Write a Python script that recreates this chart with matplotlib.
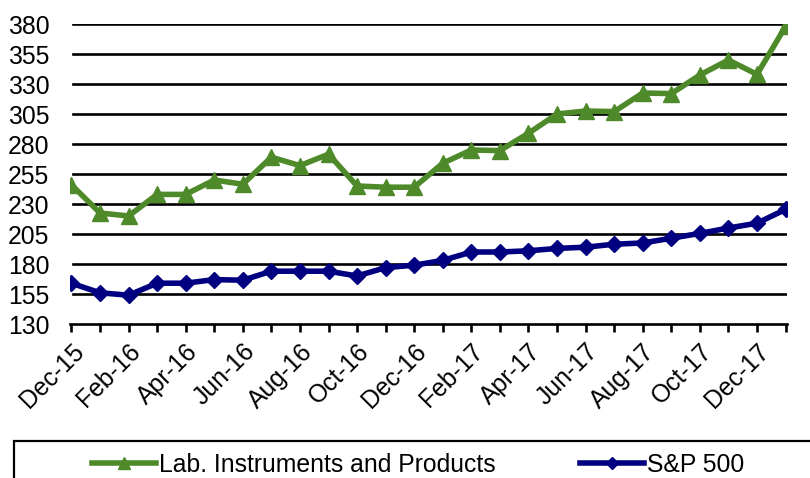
import matplotlib
matplotlib.use("Agg")
import matplotlib.pyplot as plt
from matplotlib.patches import Rectangle

months = ["Dec-15","Jan-16","Feb-16","Mar-16","Apr-16","May-16","Jun-16","Jul-16","Aug-16",
          "Sep-16","Oct-16","Nov-16","Dec-16","Jan-17","Feb-17","Mar-17","Apr-17","May-17",
          "Jun-17","Jul-17","Aug-17","Sep-17","Oct-17","Nov-17","Dec-17","Jan-18"]
lab = [246, 222.5, 220, 238, 238, 250, 246.5, 269, 262, 271.5, 245, 244, 244,
       264, 275, 274.5, 289, 305, 307.5, 307, 322.5, 322, 337.5, 350, 338, 378]
spx = [164, 156, 154, 164, 164, 167, 166.5, 174, 174, 174, 170, 177, 179,
       183, 190, 190, 191, 193, 194, 196.5, 197.5, 201.5, 205.5, 210, 214, 225.5]
yticks = [130, 155, 180, 205, 230, 255, 280, 305, 330, 355, 380]

plt.rcParams['font.family'] = ['Liberation Sans', 'DejaVu Sans']
FS = 17.8

fig = plt.figure(figsize=(8.1, 4.78), dpi=100)
ax = fig.add_axes([70/810, 1-324/478, 717/810, 300/478])

x = list(range(len(months)))
green = '#4E8A2A'
navy = '#000080'
ax.plot(x, lab, color=green, lw=4, marker='^', ms=11, label='Lab. Instruments and Products', zorder=3)
ax.plot(x, spx, color=navy, lw=4, marker='D', ms=8, label='S&P 500', zorder=3)

ax.set_ylim(130, 380)
ax.set_xlim(-0.05, 25.05)
ax.set_yticks(yticks)
ax.set_yticklabels([str(v) for v in yticks], fontsize=FS)
ax.tick_params(axis='y', length=0, pad=15)
for v in yticks[1:]:
    ax.axhline(v, xmin=0.004, color='black', lw=1.9, zorder=1)

ax.set_xticks(x)
ax.set_xticklabels([m if i % 2 == 0 else '' for i, m in enumerate(months)],
                   rotation=45, ha='right', rotation_mode='anchor', fontsize=FS)
ax.tick_params(axis='x', length=6, width=1.9, direction='out', pad=5)

for s in ['left', 'right', 'top']:
    ax.spines[s].set_visible(False)
ax.spines['bottom'].set_linewidth(1.9)

# legend frame (extends beyond the figure edge as in the reference)
fig.patches.append(Rectangle((14/810, -0.2), 1.0, 0.2 + (478-441)/478, transform=fig.transFigure,
                             fill=False, edgecolor='black', lw=1.6, clip_on=False))
leg = fig.legend(loc='center left', bbox_to_anchor=(92/810, 1-465/478),
                 bbox_transform=fig.transFigure, ncol=2, fontsize=FS,
                 frameon=False, handlelength=2.6, handletextpad=0.12,
                 borderaxespad=0, borderpad=0, columnspacing=3.4, markerscale=0.8)

fig.savefig('out.png', dpi=100)
